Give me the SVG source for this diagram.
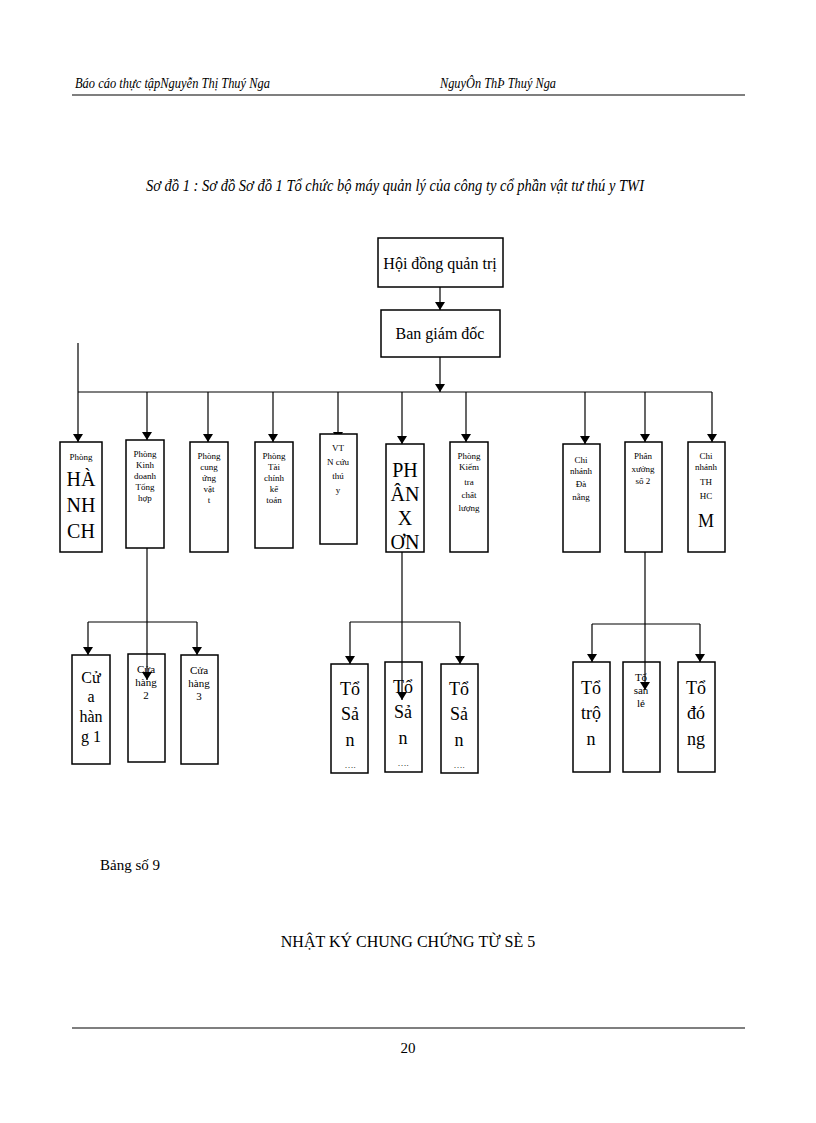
<svg xmlns="http://www.w3.org/2000/svg" width="816" height="1123" viewBox="0 0 816 1123">
<defs>
<marker id="a" viewBox="0 0 8 10" refX="8" refY="5" markerWidth="8" markerHeight="10" orient="auto" markerUnits="userSpaceOnUse"><path d="M0,0 L8,5 L0,10 z" fill="#000"/></marker>
</defs>
<style>
text{font-family:"Liberation Serif",serif;fill:#000}
.b{fill:#fff;stroke:#000;stroke-width:1.5}
.l{stroke:#000;stroke-width:1.2;fill:none}
.s{font-size:9px}
.L{font-size:20px}
</style>
<rect width="816" height="1123" fill="#fff"/>
<text x="75" y="88" font-size="14" font-style="italic" textLength="195" lengthAdjust="spacingAndGlyphs">Báo cáo thực tậpNguyễn Thị Thuý Nga</text>
<text x="440" y="88" font-size="14" font-style="italic" textLength="116" lengthAdjust="spacingAndGlyphs">NguyÔn ThÞ Thuý Nga</text>
<line x1="72" y1="95" x2="745" y2="95" class="l"/>
<text x="146" y="191" font-size="16" font-style="italic" textLength="498" lengthAdjust="spacingAndGlyphs">Sơ đồ 1 : Sơ đồ Sơ đồ 1 Tổ chức bộ máy quản lý của công ty cổ phần vật tư thú y TWI</text>
<g id="connectors">
<line x1="440" y1="287" x2="440" y2="310" class="l" marker-end="url(#a)"/>
<line x1="440" y1="357" x2="440" y2="392" class="l" marker-end="url(#a)"/>
<line x1="78" y1="392" x2="712" y2="392" class="l" stroke-width="2"/>
<line x1="78" y1="343" x2="78" y2="442" class="l" marker-end="url(#a)"/>
<line x1="147" y1="392" x2="147" y2="440" class="l" marker-end="url(#a)"/>
<line x1="208" y1="392" x2="208" y2="442" class="l" marker-end="url(#a)"/>
<line x1="273" y1="392" x2="273" y2="442" class="l" marker-end="url(#a)"/>
<line x1="338" y1="392" x2="338" y2="440" class="l" marker-end="url(#a)"/>
<line x1="402" y1="392" x2="402" y2="444" class="l" marker-end="url(#a)"/>
<line x1="466" y1="392" x2="466" y2="442" class="l" marker-end="url(#a)"/>
<line x1="585" y1="392" x2="585" y2="444" class="l" marker-end="url(#a)"/>
<line x1="645" y1="392" x2="645" y2="442" class="l" marker-end="url(#a)"/>
<line x1="712" y1="392" x2="712" y2="442" class="l" marker-end="url(#a)"/>
<line x1="88" y1="622" x2="197" y2="622" class="l"/>
<line x1="88" y1="622" x2="88" y2="655" class="l" marker-end="url(#a)"/>
<line x1="197" y1="622" x2="197" y2="655" class="l" marker-end="url(#a)"/>
<line x1="350" y1="622" x2="460" y2="622" class="l"/>
<line x1="350" y1="622" x2="350" y2="664" class="l" marker-end="url(#a)"/>
<line x1="460" y1="622" x2="460" y2="664" class="l" marker-end="url(#a)"/>
<line x1="592" y1="624" x2="700" y2="624" class="l"/>
<line x1="592" y1="624" x2="592" y2="662" class="l" marker-end="url(#a)"/>
<line x1="700" y1="624" x2="700" y2="662" class="l" marker-end="url(#a)"/>
</g>
<g id="n-hdqt"><rect class="b" x="378" y="238" width="125" height="49"/><text x="440" y="269" font-size="16" text-anchor="middle">Hội đồng quản trị</text></g>
<g id="n-bgd"><rect class="b" x="381" y="310" width="119" height="47"/><text x="440" y="339" font-size="16" text-anchor="middle">Ban giám đốc</text></g>
<g id="n-hc"><rect class="b" x="60" y="442" width="42" height="110"/><text x="81" y="460" class="s" text-anchor="middle">Phòng</text><text x="81" y="486" class="L" text-anchor="middle">HÀ</text><text x="81" y="512" class="L" text-anchor="middle">NH</text><text x="81" y="538" class="L" text-anchor="middle">CH</text></g>
<g id="n-kd"><rect class="b" x="126" y="440" width="38" height="108"/><text x="145" y="457" class="s" text-anchor="middle">Phòng</text><text x="145" y="468" class="s" text-anchor="middle">Kinh</text><text x="145" y="479" class="s" text-anchor="middle">doanh</text><text x="145" y="490" class="s" text-anchor="middle">Tổng</text><text x="145" y="501" class="s" text-anchor="middle">hợp</text></g>
<g id="n-cu"><rect class="b" x="190" y="442" width="38" height="110"/><text x="209" y="459" class="s" text-anchor="middle">Phòng</text><text x="209" y="470" class="s" text-anchor="middle">cung</text><text x="209" y="481" class="s" text-anchor="middle">ứng</text><text x="209" y="492" class="s" text-anchor="middle">vật</text><text x="209" y="503" class="s" text-anchor="middle">t</text></g>
<g id="n-tc"><rect class="b" x="255" y="442" width="38" height="106"/><text x="274" y="459" class="s" text-anchor="middle">Phòng</text><text x="274" y="470" class="s" text-anchor="middle">Tài</text><text x="274" y="481" class="s" text-anchor="middle">chính</text><text x="274" y="492" class="s" text-anchor="middle">kế</text><text x="274" y="503" class="s" text-anchor="middle">toán</text></g>
<g id="n-vt"><rect class="b" x="320" y="434" width="37" height="110"/><text x="338" y="451" class="s" text-anchor="middle">VT</text><text x="338" y="465" class="s" text-anchor="middle">N cứu</text><text x="338" y="479" class="s" text-anchor="middle">thú</text><text x="338" y="493" class="s" text-anchor="middle">y</text></g>
<g id="n-px"><rect class="b" x="386" y="444" width="38" height="108"/><text x="405" y="477" class="L" text-anchor="middle">PH</text><text x="405" y="501" class="L" text-anchor="middle">ÂN</text><text x="405" y="525" class="L" text-anchor="middle">X</text><text x="405" y="549" class="L" text-anchor="middle">ƠN</text></g>
<g id="n-kt"><rect class="b" x="450" y="442" width="38" height="110"/><text x="469" y="459" class="s" text-anchor="middle">Phòng</text><text x="469" y="470" class="s" text-anchor="middle">Kiểm</text><text x="469" y="485" class="s" text-anchor="middle">tra</text><text x="469" y="498" class="s" text-anchor="middle">chất</text><text x="469" y="511" class="s" text-anchor="middle">lượng</text></g>
<g id="n-dn"><rect class="b" x="563" y="444" width="37" height="108"/><text x="581" y="463" class="s" text-anchor="middle">Chi</text><text x="581" y="474" class="s" text-anchor="middle">nhánh</text><text x="581" y="487" class="s" text-anchor="middle">Đà</text><text x="581" y="500" class="s" text-anchor="middle">nẵng</text></g>
<g id="n-px2"><rect class="b" x="625" y="442" width="37" height="110"/><text x="643" y="459" class="s" text-anchor="middle">Phân</text><text x="643" y="472" class="s" text-anchor="middle">xưởng</text><text x="643" y="484" class="s" text-anchor="middle">số 2</text></g>
<g id="n-hcm"><rect class="b" x="688" y="442" width="37" height="110"/><text x="706" y="459" class="s" text-anchor="middle">Chi</text><text x="706" y="470" class="s" text-anchor="middle">nhánh</text><text x="706" y="485" class="s" text-anchor="middle">TH</text><text x="706" y="499" class="s" text-anchor="middle">HC</text><text x="706" y="527" font-size="18" text-anchor="middle">M</text></g>
<g id="n-ch1"><rect class="b" x="72" y="655" width="38" height="109"/><text x="91" y="683" font-size="16" text-anchor="middle">Cử</text><text x="91" y="702" font-size="16" text-anchor="middle">a</text><text x="91" y="722" font-size="16" text-anchor="middle">hàn</text><text x="91" y="742" font-size="16" text-anchor="middle">g 1</text></g>
<g id="n-ch2"><rect class="b" x="128" y="654" width="37" height="108"/><text x="146" y="673" font-size="11" text-anchor="middle">Cửa</text><text x="146" y="686" font-size="11" text-anchor="middle">hàng</text><text x="146" y="699" font-size="11" text-anchor="middle">2</text></g>
<g id="n-ch3"><rect class="b" x="181" y="655" width="37" height="109"/><text x="199" y="674" font-size="11" text-anchor="middle">Cửa</text><text x="199" y="687" font-size="11" text-anchor="middle">hàng</text><text x="199" y="700" font-size="11" text-anchor="middle">3</text></g>
<g id="n-ts1"><rect class="b" x="331" y="664" width="37" height="109"/><text x="350" y="695" font-size="18" text-anchor="middle">Tổ</text><text x="350" y="720" font-size="18" text-anchor="middle">Sả</text><text x="350" y="746" font-size="18" text-anchor="middle">n</text><text x="350" y="768" font-size="9" text-anchor="middle">….</text></g>
<g id="n-ts2"><rect class="b" x="385" y="662" width="37" height="110"/><text x="403" y="693" font-size="18" text-anchor="middle">Tổ</text><text x="403" y="718" font-size="18" text-anchor="middle">Sả</text><text x="403" y="744" font-size="18" text-anchor="middle">n</text><text x="403" y="766" font-size="9" text-anchor="middle">….</text></g>
<g id="n-ts3"><rect class="b" x="441" y="664" width="37" height="109"/><text x="459" y="695" font-size="18" text-anchor="middle">Tổ</text><text x="459" y="720" font-size="18" text-anchor="middle">Sả</text><text x="459" y="746" font-size="18" text-anchor="middle">n</text><text x="459" y="768" font-size="9" text-anchor="middle">….</text></g>
<g id="n-tt"><rect class="b" x="573" y="662" width="37" height="110"/><text x="591" y="694" font-size="18" text-anchor="middle">Tổ</text><text x="591" y="719" font-size="18" text-anchor="middle">trộ</text><text x="591" y="745" font-size="18" text-anchor="middle">n</text></g>
<g id="n-tsl"><rect class="b" x="623" y="662" width="37" height="110"/><text x="641" y="681" font-size="11" text-anchor="middle">Tổ</text><text x="641" y="694" font-size="11" text-anchor="middle">san</text><text x="641" y="707" font-size="11" text-anchor="middle">lẻ</text></g>
<g id="n-td"><rect class="b" x="678" y="662" width="37" height="110"/><text x="696" y="694" font-size="18" text-anchor="middle">Tổ</text><text x="696" y="719" font-size="18" text-anchor="middle">đó</text><text x="696" y="745" font-size="18" text-anchor="middle">ng</text></g>
<line x1="147" y1="548" x2="147" y2="680" class="l" marker-end="url(#a)"/>
<line x1="402" y1="552" x2="402" y2="700" class="l" marker-end="url(#a)"/>
<line x1="645" y1="552" x2="645" y2="690" class="l" marker-end="url(#a)"/>
<text x="100" y="870" font-size="15">Bảng số 9</text>
<text x="408" y="947" font-size="16" text-anchor="middle">NHẬT KÝ CHUNG CHỨNG TỪ SÈ 5</text>
<line x1="72" y1="1028" x2="745" y2="1028" class="l"/>
<text x="408" y="1053" font-size="15" text-anchor="middle">20</text>
</svg>
